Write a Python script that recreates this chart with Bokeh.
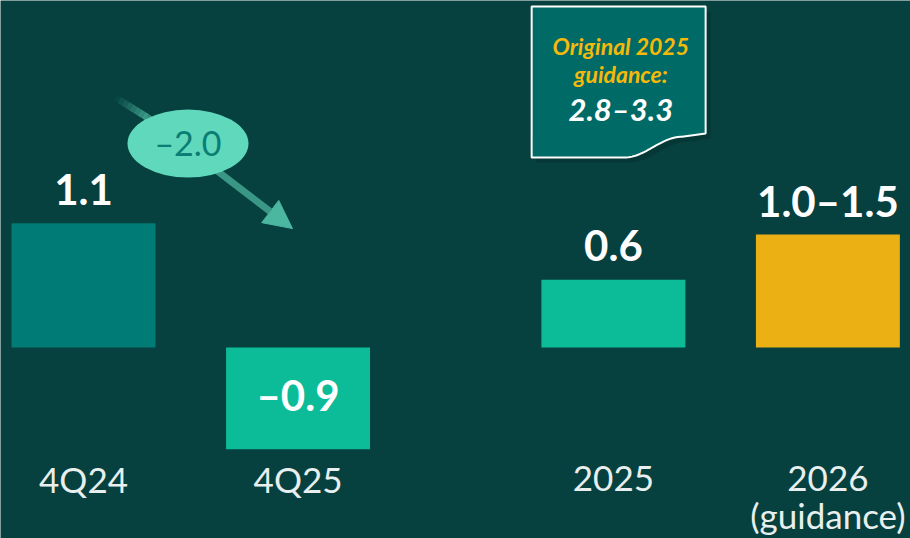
import numpy as np
from bokeh.plotting import figure
from bokeh.models import Range1d, Arrow, NormalHead, ColumnDataSource
from bokeh.core.properties import value
from bokeh.embed import file_html
from bokeh.resources import INLINE

# ---------------- data ----------------
categories = ["4Q24", "4Q25", "2025", "2026\n(guidance)"]
values = [1.1, -0.9, 0.6, 1.0]          # 2026 bar drawn at guidance low end
value_labels = ["1.1", "–0.9", "0.6", "1.0–1.5"]
guidance_2025 = (2.8, 3.3)
guidance_2026 = (1.0, 1.5)

# ---------------- layout / style ----------------
xpos = [0.0, 1.0, 2.47, 3.47]
bar_colors = ["#007b75", "#0cbc98", "#0cbc98", "#ebb013"]
BG = "#06413f"
FONT = "Lato"

W, H = 910, 538
p = figure(width=W, height=H, x_range=Range1d(-0.387, 3.855), y_range=Range1d(-1.690, 3.071),
           output_backend="svg", toolbar_location=None, x_axis_type=None, y_axis_type=None,
           min_border=0, background_fill_color=BG, border_fill_color=BG,
           outline_line_color=None)
p.grid.visible = False

# bars
src = ColumnDataSource(dict(x=xpos, top=values, color=bar_colors))
p.vbar(x="x", top="top", bottom=0, width=0.671, fill_color="color", line_color=None, source=src)

# value labels
pos_x = [x for x, v in zip(xpos, values) if v >= 0]
pos_y = [v for v in values if v >= 0]
pos_t = [t for t, v in zip(value_labels, values) if v >= 0]
p.text(x=pos_x, y=pos_y, text=pos_t, y_offset=-34, text_align="center",
       text_baseline="alphabetic", text_color="white", text_font=value(FONT),
       text_font_style="bold", text_font_size="42px")
neg_x = [x for x, v in zip(xpos, values) if v < 0]
neg_y = [v / 2 for v in values if v < 0]
neg_t = [t for t, v in zip(value_labels, values) if v < 0]
p.text(x=neg_x, y=neg_y, text=neg_t, y_offset=-3, text_align="center",
       text_baseline="middle", text_color="white", text_font=value(FONT),
       text_font_style="bold", text_font_size="42px")

# category labels (multi-line split into rows)
cx, cy, ct, coff = [], [], [], []
for x, c in zip(xpos, categories):
    for i, line in enumerate(c.split("\n")):
        cx.append(x); cy.append(0); ct.append(line); coff.append(131 + i * 36)
p.text(x=cx, y=cy, text=ct, y_offset=coff, text_align="center", text_baseline="alphabetic",
       text_color="#e8efee", text_font=value(FONT), text_font_size="35px")

# change arrow (faded tail, then solid with head)
a_start = (0.149, 2.212)
a_mid = (0.298, 2.035)
a_end = (0.974, 1.053)
n = 8
ts = np.linspace(0, 1, n + 1)
sx0 = a_start[0] + (a_mid[0] - a_start[0]) * ts[:-1]
sy0 = a_start[1] + (a_mid[1] - a_start[1]) * ts[:-1]
sx1 = a_start[0] + (a_mid[0] - a_start[0]) * ts[1:]
sy1 = a_start[1] + (a_mid[1] - a_start[1]) * ts[1:]
p.segment(x0=sx0, y0=sy0, x1=sx1, y1=sy1, line_color="#44a892", line_width=7,
          line_alpha=list(np.linspace(0.05, 0.85, n)), level="underlay")
p.add_layout(Arrow(x_start=a_mid[0], y_start=a_mid[1], x_end=a_end[0], y_end=a_end[1],
                   line_color="#40a08d", line_width=7, line_alpha=0.9, level="underlay",
                   end=NormalHead(size=28, fill_color="#4cb7a0", line_color="#4cb7a0")))

# change bubble
diff = values[1] - values[0]
p.ellipse(x=[0.487], y=[1.805], width=121, height=68, width_units="screen",
          height_units="screen", fill_color="#5fd8bb", line_color=None)
p.text(x=[0.487], y=[1.805], text=[f"–{abs(diff):.1f}"], y_offset=-1, text_align="center",
       text_baseline="middle", text_color="#0b7d75", text_font=value(FONT),
       text_font_size="34px")

# callout box for original 2025 guidance
bl, br, bt = 2.089, 2.900, 3.018
ybl, ybr = 1.681, 1.894
w0, w1, yw1 = 2.52, 2.79, 1.865
tt = np.linspace(0, 1, 30)
wave_x = list(w0 + (w1 - w0) * tt)
wave_y = list(ybl + (yw1 - ybl) * (1 - np.cos(np.pi * tt)) / 2)
bx = [bl, br, br] + [br] + wave_x[::-1] + [bl]
by = [bt, bt, ybr] + [ybr] + wave_y[::-1] + [ybl]
dx, dy = 5 / 214.5, -5 / 113
p.patch(x=[v + dx for v in bx], y=[v + dy for v in by], fill_color="#03302f",
        fill_alpha=0.6, line_color=None)
p.patch(x=bx, y=by, fill_color="#006b66", line_color="white", line_width=2)
cxo = (bl + br) / 2 + 0.01
p.text(x=[cxo, cxo], y=[bt, bt], text=["Original 2025", "guidance:"], y_offset=[40, 68],
       text_align="center", text_baseline="alphabetic", text_color="#f5b90a",
       text_font=value(FONT), text_font_style="bold italic", text_font_size="23px")
p.text(x=[cxo], y=[bt], text=[f"{guidance_2025[0]}–{guidance_2025[1]}"], y_offset=103,
       text_align="center", text_baseline="alphabetic", text_color="white",
       text_font=value(FONT), text_font_style="bold italic", text_font_size="31px")

open("out.html", "w").write(file_html(p, INLINE))
